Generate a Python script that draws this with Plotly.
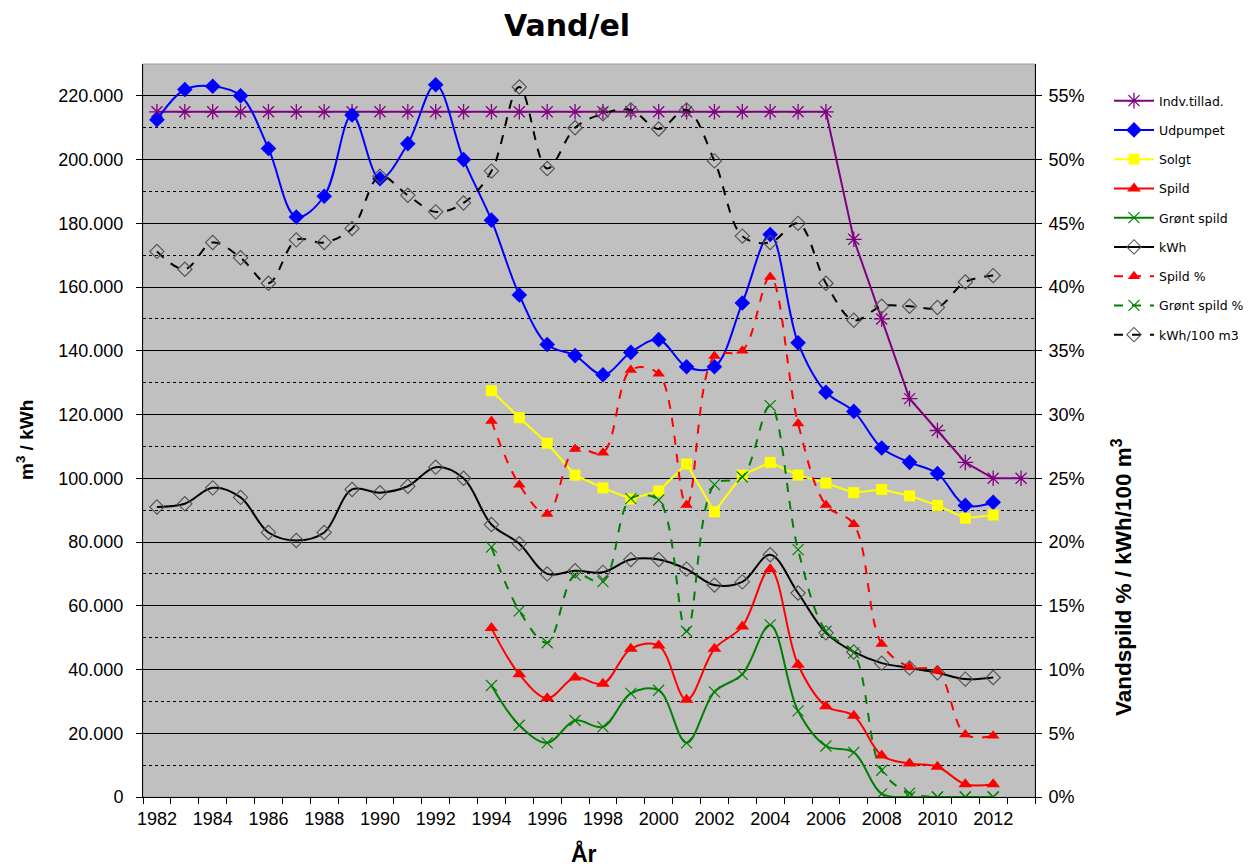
import plotly.graph_objects as go

# ---------------- data ----------------
years_all = [1982, 1983, 1984, 1985, 1986, 1987, 1988, 1989, 1990, 1991, 1992, 1993, 1994, 1995,
             1996, 1997, 1998, 1999, 2000, 2001, 2002, 2003, 2004, 2005, 2006, 2007, 2008, 2009,
             2010, 2011, 2012, 2013]
years_main = years_all[:-1]
years_late = [1994, 1995, 1996, 1997, 1998, 1999, 2000, 2001, 2002, 2003, 2004, 2005, 2006,
              2007, 2008, 2009, 2010, 2011, 2012]

indv_tillad = [215000, 215000, 215000, 215000, 215000, 215000, 215000, 215000, 215000, 215000,
               215000, 215000, 215000, 215000, 215000, 215000, 215000, 215000, 215000, 215000,
               215000, 215000, 215000, 215000, 215000, 175000, 150000, 125000, 115000, 105000,
               100000, 100000]
udpumpet = [212500, 222000, 223000, 220000, 203500, 182000, 188500, 214000, 194000, 205000,
            223500, 200000, 181000, 157500, 142000, 138500, 132500, 139500, 143500, 135000,
            135000, 155000, 176500, 142500, 127000, 121000, 109500, 105000, 101500, 91500, 92500]
solgt = [127500, 119000, 111000, 101000, 97000, 93500, 96000, 104500, 89500, 101000, 105000,
         101000, 98500, 95500, 96500, 94500, 91500, 87500, 88500]
spild = [53000, 38500, 31000, 37500, 35500, 46500, 47500, 30500, 46500, 53500, 71500, 41500,
         28500, 25500, 13000, 10500, 9500, 4000, 4000]
groent_spild = [35000, 22500, 17000, 24000, 22000, 32500, 33500, 17000, 33000, 38500, 54000,
                27000, 16000, 14000, 1000, 0, 0, 0, 0]
kwh = [91000, 92000, 97000, 94000, 83000, 80500, 83000, 96500, 95500, 97500, 103500, 100000,
       85500, 79500, 70000, 71000, 70500, 74500, 74500, 71500, 66500, 67500, 76000, 64000,
       51500, 45500, 42000, 40500, 39000, 37000, 37500]
spild_pct = [0.295, 0.245, 0.222, 0.273, 0.270, 0.335, 0.332, 0.229, 0.346, 0.350, 0.408,
             0.293, 0.229, 0.214, 0.120, 0.102, 0.099, 0.049, 0.048]
groent_pct = [0.196, 0.146, 0.121, 0.174, 0.169, 0.234, 0.233, 0.130, 0.245, 0.251, 0.307,
              0.194, 0.130, 0.113, 0.021, 0.003, 0.0, 0.0, 0.0]
kwh_100m3 = [0.428, 0.414, 0.435, 0.423, 0.403, 0.437, 0.435, 0.446, 0.487, 0.472, 0.459,
             0.466, 0.491, 0.557, 0.493, 0.525, 0.536, 0.539, 0.524, 0.539, 0.499, 0.440,
             0.435, 0.450, 0.403, 0.374, 0.385, 0.385, 0.384, 0.404, 0.409]

x_labels = [1982, 1984, 1986, 1988, 1990, 1992, 1994, 1996, 1998, 2000, 2002, 2004, 2006,
            2008, 2010, 2012]
x_boundaries = [y - 0.5 for y in years_all] + [years_all[-1] + 0.5]

# ---------------- figure ----------------
fig = go.Figure()

def add(name, x, y, color, symbol, size, shape, dash="solid", axis="y", mline=0, mcolor=None):
    fig.add_trace(go.Scatter(
        x=x, y=y, name=name, mode="lines+markers", yaxis=axis, legendgroup=name,
        line=dict(color=color, width=2, dash=dash, shape=shape, smoothing=1.0),
        marker=dict(symbol=symbol, size=size, color=mcolor or color,
                    line=dict(width=mline, color=mcolor or color)),
    ))

add("Indv.tillad.", years_all, indv_tillad, "#800080", "asterisk-open", 13, "linear", mline=1.3)
add("Udpumpet", years_main, udpumpet, "#0000FF", "diamond", 12, "spline")
add("Solgt", years_late, solgt, "#FFFF00", "square", 11, "linear")
add("Spild", years_late, spild, "#FF0000", "triangle-up", 12, "spline")
add("Grønt spild", years_late, groent_spild, "#008000", "x-thin-open", 11, "spline", mline=1.2)
add("kWh", years_main, kwh, "#000000", "diamond-open", 11, "spline", mline=1.1, mcolor="#505050")
add("Spild %", years_late, spild_pct, "#FF0000", "triangle-up", 11, "spline", dash="dash", axis="y2")
add("Grønt spild %", years_late, groent_pct, "#008000", "x-thin-open", 11, "spline",
    dash="dash", axis="y2", mline=1.2)
add("kWh/100 m3", years_main, kwh_100m3, "#000000", "diamond-open", 11, "spline",
    dash="dash", axis="y2", mline=1.1, mcolor="#505050")

tickfont = dict(family="Liberation Sans, Arial, sans-serif", size=18, color="#000000")
boldfont = "Liberation Sans, Arial, sans-serif"

# page body has an 8px margin: figure is 8px smaller, offsets shifted by 8px
W, H, OFF = 1248, 858, 8

fig.update_layout(
    width=W, height=H,
    margin=dict(l=143 - OFF, r=221, t=64 - OFF, b=69),
    paper_bgcolor="white", plot_bgcolor="#C0C0C0",
    separators=",.",
    showlegend=True,
    title=dict(text="<b>Vand/el</b>", x=(567 - OFF) / W, xanchor="center",
               y=1 - (25 - OFF) / H, yanchor="middle",
               font=dict(family="DejaVu Sans, Verdana, sans-serif", size=30, color="#000000")),
    legend=dict(xref="container", yref="container",
                x=(1109 - OFF) / W, y=1 - (86 - OFF) / H, xanchor="left", yanchor="top",
                bgcolor="rgba(0,0,0,0)",
                font=dict(family="DejaVu Sans, Verdana, sans-serif", size=12.5, color="#000000"),
                tracegroupgap=10, itemwidth=40, traceorder="grouped"),
    xaxis=dict(range=[1981.5, 2013.5], tickmode="array", tickvals=x_labels,
               ticktext=[str(v) for v in x_labels], ticks="", showgrid=False, zeroline=False,
               showline=True, linecolor="#000000", linewidth=1, tickfont=tickfont,
               ticklabelstandoff=5,
               minor=dict(tickmode="array", tickvals=x_boundaries, ticks="outside", ticklen=6,
                          tickcolor="#000000", showgrid=False)),
    yaxis=dict(range=[0, 230000], tickmode="linear", tick0=0, dtick=20000, tickformat=",d",
               showgrid=True, gridcolor="#000000", gridwidth=1, zeroline=False,
               showline=True, linecolor="#000000", linewidth=1, ticks="outside", ticklen=6,
               tickcolor="#000000", tickfont=tickfont, ticklabelstandoff=9,
               minor=dict(tickmode="linear", tick0=0, dtick=10000, showgrid=True,
                          gridcolor="#000000", griddash="dot", gridwidth=1)),
    yaxis2=dict(range=[0, 0.575], overlaying="y", side="right", tickmode="linear", tick0=0,
                dtick=0.05, tickformat=".0%", showgrid=False, zeroline=False,
                showline=True, linecolor="#000000", linewidth=1, ticks="outside", ticklen=6,
                tickcolor="#000000", tickfont=tickfont, ticklabelstandoff=3),
    shapes=[dict(type="rect", xref="paper", yref="paper", x0=0, x1=1, y0=0, y1=1,
                 line=dict(color="#A0A0A0", width=1), fillcolor="rgba(0,0,0,0)", layer="below")],
    annotations=[
        dict(text="<b>m<sup>3</sup> / kWh</b>", xref="paper", yref="paper",
             x=-(143 - 25) / 892, y=(797 - 440) / 733, xanchor="center", yanchor="middle",
             textangle=-90, showarrow=False,
             font=dict(family=boldfont, size=19, color="#000000")),
        dict(text="<b>Vandspild % / kWh/100 m<sup>3</sup></b>", xref="paper", yref="paper",
             x=1 + (1122 - 1035) / 892, y=(797 - 577) / 733, xanchor="center",
             yanchor="middle", textangle=-90, showarrow=False,
             font=dict(family=boldfont, size=22.5, color="#000000")),
        dict(text="<b>År</b>", xref="paper", yref="paper",
             x=(584 - 143) / 892, y=-(853 - 797) / 733, xanchor="center", yanchor="middle",
             showarrow=False, font=dict(family=boldfont, size=23, color="#000000")),
    ],
)

fig.write_html("out.html")
